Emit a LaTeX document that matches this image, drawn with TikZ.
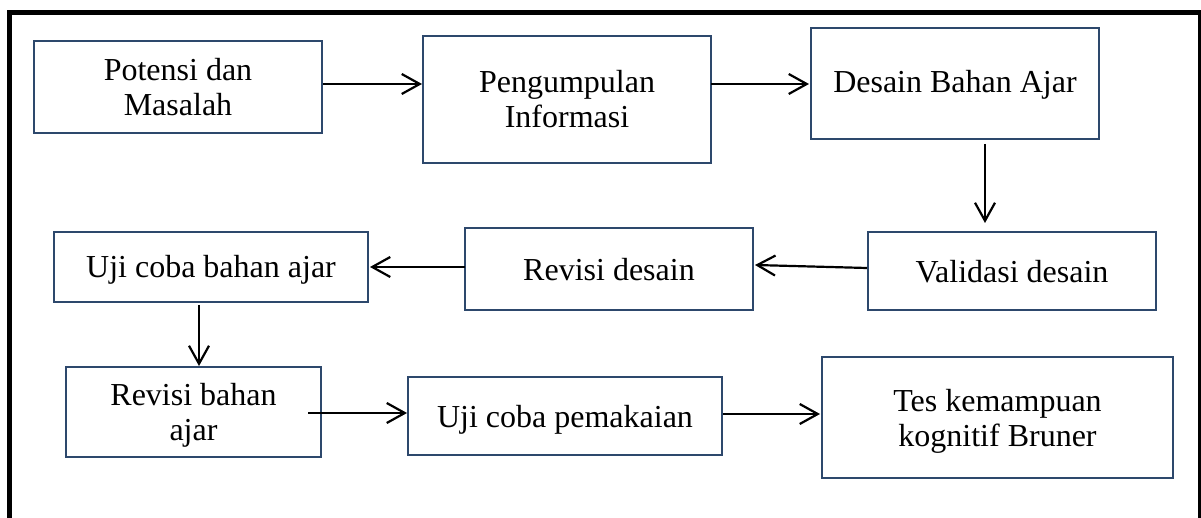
\documentclass[tikz,border=0pt]{standalone}
\usepackage{fontspec}
\setmainfont{Liberation Serif}
\usetikzlibrary{arrows.meta,calc}
\definecolor{boxline}{RGB}{45,72,108}
\begin{document}
\begin{tikzpicture}[x=0.5pt,y=-0.5pt,
  boxsty/.style={draw=boxline, line width=1.1pt, inner sep=0pt, outer sep=0pt, rectangle},
  txt/.style={font=\fontsize{16}{17.5}\selectfont, align=center, inner sep=0pt,
              execute at begin node=\strut, execute at end node=\strut},
  arr/.style={draw=black, line width=1.1pt, -{Straight Barb[length=9pt,width=10pt]}},
  framesty/.style={draw=black, line width=2.5pt}]
\useasboundingbox (0,0) rectangle (1201,518);
\clip (0,0) rectangle (1201,518);
\fill[white] (0,0) rectangle (1201,518);
% outer frame (open at the bottom, clipped)
\draw[framesty] (9.5,540) -- (9.5,12.5) -- (1200.5,12.5) -- (1200.5,540);

% boxes
\node[boxsty, minimum width=144pt, minimum height=46pt]   (A) at (178,87) {};
\node[boxsty, minimum width=144pt, minimum height=63.5pt] (B) at (567,99.5) {};
\node[boxsty, minimum width=144pt, minimum height=55.5pt] (C) at (955,83.5) {};
\node[boxsty, minimum width=144pt, minimum height=39pt]   (D) at (1012,271) {};
\node[boxsty, minimum width=144pt, minimum height=41pt]   (E) at (609,269) {};
\node[boxsty, minimum width=157pt, minimum height=35pt]   (F) at (211,267) {};
\node[boxsty, minimum width=127.5pt, minimum height=45pt] (G) at (193.5,412) {};
\node[boxsty, minimum width=157pt, minimum height=39pt]   (H) at (565,416) {};
\node[boxsty, minimum width=175.5pt, minimum height=60.5pt] (I) at (997.5,417.5) {};

% texts
\node[txt] (At) at (178,92) {Potensi dan\\Masalah};
\node[txt] (Bt) at (567,104) {Pengumpulan\\Informasi};
\node[txt] (Ct) at (955,86) {Desain Bahan Ajar};
\node[txt] (Dt) at (1012,276) {Validasi desain};
\node[txt] (Et) at (609,274) {Revisi desain};
\node[txt] (Ft) at (211,271) {Uji coba bahan ajar};
\begin{scope}
  \clip (66,367) rectangle (321,447);
  \node[txt] (Gt) at (193.5,417.5) {Revisi bahan\\ajar};
\end{scope}
\node[txt] (Ht) at (565,421) {Uji coba pemakaian};
\node[txt] (It) at (997.5,423) {Tes kemampuan\\kognitif Bruner};

% connectors
\draw[arr] ($(A.east)+(1,-3)$) -- ($(A.east -| B.west)+(-1,-3)$);
\draw[arr] ($(B.east)+(0,-15.5)$) -- ($(B.east -| C.west)+(-2,-15.5)$);
\draw[arr] ($(C.south)+(30,5)$) -- ($(C.south |- D.north)+(30,-9)$);
\draw[arr] ($(D.west)+(-1,-3)$) -- ($(E.east)+(2,-4)$);
\draw[arr] ($(E.west)+(0,-2)$) -- ($(F.east)+(2,0)$);
\draw[arr] ($(F.south)+(-12,3)$) -- ($(F.south |- G.north)+(-12,-1)$);
\draw[arr] ($(G.east)+(-13,1)$) -- ($(H.west)+(-1,-3)$);
\draw[arr] ($(H.east)+(1,-2)$) -- ($(I.west)+(-2,-3.5)$);
\end{tikzpicture}
\end{document}
